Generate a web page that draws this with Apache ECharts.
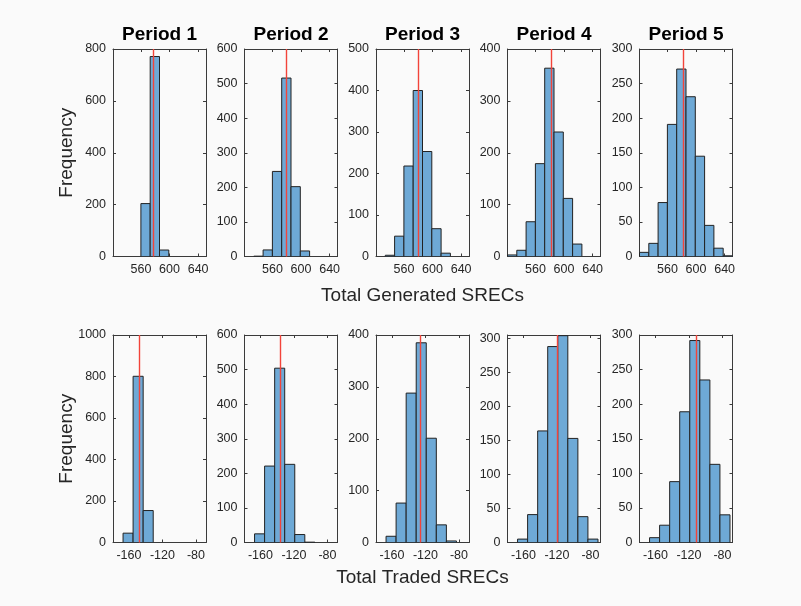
<!DOCTYPE html>
<html><head><meta charset="utf-8">
<script src="https://cdn.jsdelivr.net/npm/echarts@6/dist/echarts.min.js"></script>
<style>html,body{margin:0;padding:0;background:#fafafa}#c{width:801px;height:606px}</style>
</head><body><div id="c"></div>
<script>
// ---------- data ----------
const periods = ['Period 1', 'Period 2', 'Period 3', 'Period 4', 'Period 5'];

const genRange = [521, 651];
const genEdges = [521, 534, 547, 560, 573, 586, 599, 612, 625, 638, 651];
const genTicks = [560, 600, 640];
const gen1 = [0, 0, 0, 204, 771, 25, 0, 0, 0, 0];
const gen2 = [0, 1, 19, 246, 516, 202, 16, 0, 0, 0];
const gen3 = [0, 3, 49, 218, 400, 253, 67, 8, 0, 0];
const gen4 = [3, 12, 67, 179, 363, 240, 112, 24, 0, 0];
const gen5 = [6, 19, 78, 191, 271, 231, 145, 45, 12, 1];
const genMean = [577.2, 579.7, 580.4, 582.8, 582.3];
const genYMax = [800, 600, 500, 400, 300];
const genYStep = [200, 100, 100, 100, 50];

const tradeRange = [-179, -68];
const tradeEdges = [-179, -167, -155, -143, -131, -119, -107, -95, -83, -71];
const tradeTicks = [-160, -120, -80];
const trade1 = [0, 45, 801, 154, 0, 0, 0, 0, 0];
const trade2 = [0, 25, 221, 504, 226, 23, 1, 0, 0];
const trade3 = [0, 12, 76, 288, 385, 201, 34, 3, 0];
const trade4 = [0, 5, 41, 164, 288, 304, 153, 38, 5];
const trade5 = [0, 7, 25, 88, 189, 292, 235, 113, 40];
const tradeMean = [-147.3, -136.4, -126.7, -119.2, -110.8];
const tradeYMax = [1000, 600, 400, 305, 300];
const tradeYStep = [200, 100, 100, 50, 50];

const xLabels = ['Total Generated SRECs', 'Total Traded SRECs'];
const yLabel = 'Frequency';

// ---------- layout ----------
const colLeft = [113, 244.5, 376, 507.5, 639.5];
const gw = 93;
const rowTop = [49, 335];
const gh = 207.5;
const FONT = 'Liberation Sans, Arial, Helvetica, sans-serif';
const TXT = '#262626';
const AX = '#3a3a3a';

const rows = [
  { range: genRange, edges: genEdges, ticks: genTicks, counts: [gen1, gen2, gen3, gen4, gen5],
    mean: genMean, ymax: genYMax, ystep: genYStep },
  { range: tradeRange, edges: tradeEdges, ticks: tradeTicks, counts: [trade1, trade2, trade3, trade4, trade5],
    mean: tradeMean, ymax: tradeYMax, ystep: tradeYStep }
];

const plain = v => String(v);
const grid = [], xAxis = [], yAxis = [], series = [];
let k = 0;
rows.forEach((row, r) => {
  for (let c = 0; c < 5; c++) {
    grid.push({ left: colLeft[c], top: rowTop[r], width: gw, height: gh, containLabel: false });
    const yt = [];
    for (let v = 0; v <= row.ymax[c] + 1e-9; v += row.ystep[c]) yt.push(v);
    const baseX = { type: 'value', gridIndex: k, min: row.range[0], max: row.range[1],
      splitLine: { show: false },
      axisLine: { show: true, onZero: false, lineStyle: { color: AX, width: 1 } },
      axisTick: { show: true, inside: true, length: 3, customValues: row.ticks, lineStyle: { color: AX } } };
    xAxis.push(Object.assign({}, baseX, { position: 'bottom',
      axisLabel: { show: true, customValues: row.ticks, formatter: plain, color: TXT, fontSize: 12.5, fontFamily: FONT, margin: 7 } }));
    xAxis.push(Object.assign({}, baseX, { position: 'top', axisLabel: { show: false } }));
    const baseY = { type: 'value', gridIndex: k, min: 0, max: row.ymax[c],
      splitLine: { show: false },
      axisLine: { show: true, onZero: false, lineStyle: { color: AX, width: 1 } },
      axisTick: { show: true, inside: true, length: 3, customValues: yt, lineStyle: { color: AX } } };
    yAxis.push(Object.assign({}, baseY, { position: 'left',
      axisLabel: { show: true, customValues: yt, formatter: plain, color: TXT, fontSize: 12.5, fontFamily: FONT, margin: 7 } }));
    yAxis.push(Object.assign({}, baseY, { position: 'right', axisLabel: { show: false } }));

    const counts = row.counts[c];
    const data = counts.map((v, i) => [row.edges[i], row.edges[i + 1], v]);
    series.push({
      type: 'custom', xAxisIndex: 2 * k, yAxisIndex: 2 * k, clip: true, silent: true,
      data: data,
      encode: { x: [0, 1], y: 2 },
      renderItem: function (params, api) {
        const v = api.value(2);
        if (!v) return null;
        const p0 = api.coord([api.value(0), v]);
        const p1 = api.coord([api.value(1), 0]);
        return { type: 'rect',
          shape: { x: p0[0], y: p0[1], width: p1[0] - p0[0], height: p1[1] - p0[1] },
          style: { fill: '#6ea9d6', stroke: '#222222', lineWidth: 1 } };
      },
      markLine: { silent: true, symbol: ['none', 'none'], animation: false,
        label: { show: false },
        lineStyle: { color: '#f2443a', width: 1.4, type: 'solid', opacity: 1 },
        data: [{ xAxis: row.mean[c] }] }
    });
    k++;
  }
});

const graphic = [];
periods.forEach((p, c) => {
  graphic.push({ type: 'text', x: colLeft[c] + gw / 2, y: 35,
    style: { text: p, fill: '#000', font: 'bold 19px ' + FONT, align: 'center', verticalAlign: 'middle' } });
});
xLabels.forEach((t, r) => {
  graphic.push({ type: 'text', x: colLeft[2] + gw / 2, y: r === 0 ? 296 : 578,
    style: { text: t, fill: TXT, font: '19px ' + FONT, align: 'center', verticalAlign: 'middle' } });
  graphic.push({ type: 'text', x: 67, y: rowTop[r] + gh / 2, rotation: Math.PI / 2,
    style: { text: yLabel, fill: TXT, font: '19px ' + FONT, align: 'center', verticalAlign: 'middle' } });
});

const chart = echarts.init(document.getElementById('c'), null, { renderer: 'canvas' });
chart.setOption({ backgroundColor: '#fafafa', animation: false, grid, xAxis, yAxis, series, graphic });
</script></body></html>
